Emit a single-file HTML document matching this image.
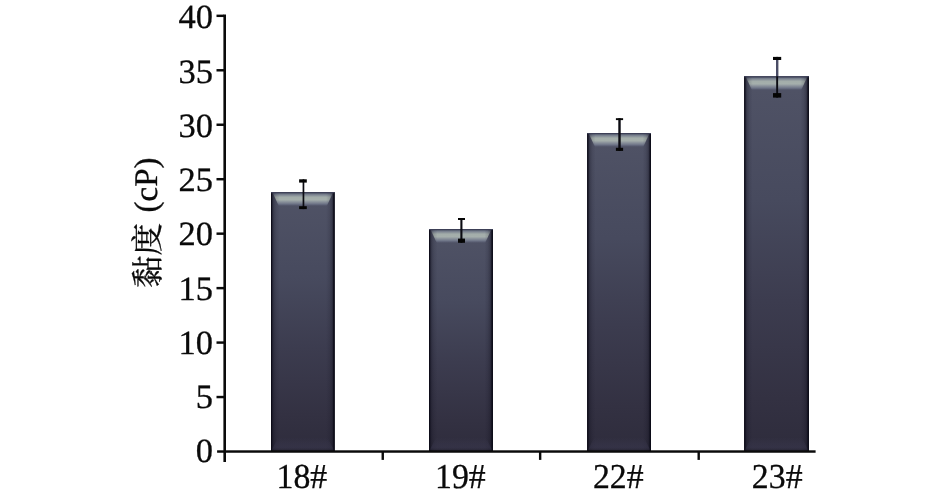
<!DOCTYPE html>
<html lang="zh"><head><meta charset="utf-8"><title>黏度 (cP)</title>
<style>
html,body{margin:0;padding:0;background:#fff;}
body{width:945px;height:497px;overflow:hidden;}
svg{display:block;}
text{text-rendering:geometricPrecision;stroke:#0a0a0a;stroke-width:0.3px;font-family:"Liberation Serif","Noto Serif CJK SC",serif;fill:#0a0a0a;}
</style></head><body>
<svg width="945" height="497" viewBox="0 0 945 497">
<defs>
<linearGradient id="bg" x1="0" y1="0" x2="0" y2="1">
<stop offset="0" stop-color="#505366"/><stop offset="0.33" stop-color="#474a5e"/><stop offset="0.6" stop-color="#3c3c4f"/><stop offset="0.86" stop-color="#333142"/><stop offset="1" stop-color="#2e2c3c"/>
</linearGradient>
<linearGradient id="hl" x1="0" y1="0" x2="0" y2="1">
<stop offset="0" stop-color="#596071"/><stop offset="0.12" stop-color="#7c8491"/><stop offset="0.3" stop-color="#a3adaa"/><stop offset="0.5" stop-color="#a5afac"/><stop offset="0.63" stop-color="#8d959d"/><stop offset="0.82" stop-color="#6b7185"/><stop offset="1" stop-color="#4f5267" stop-opacity="0"/>
</linearGradient>
<linearGradient id="sl" x1="0" y1="0" x2="1" y2="0">
<stop offset="0" stop-color="#0e0d1a" stop-opacity="0.92"/><stop offset="0.16" stop-color="#12111f" stop-opacity="0.62"/><stop offset="0.34" stop-color="#12111f" stop-opacity="0.3"/><stop offset="0.6" stop-color="#12111f" stop-opacity="0.12"/><stop offset="1" stop-color="#15132a" stop-opacity="0"/>
</linearGradient>
<linearGradient id="sr" x1="1" y1="0" x2="0" y2="0">
<stop offset="0" stop-color="#0a0914" stop-opacity="0.95"/><stop offset="0.16" stop-color="#12111f" stop-opacity="0.68"/><stop offset="0.34" stop-color="#12111f" stop-opacity="0.32"/><stop offset="0.6" stop-color="#12111f" stop-opacity="0.13"/><stop offset="1" stop-color="#15132a" stop-opacity="0"/>
</linearGradient>
<linearGradient id="bl" x1="0" y1="0" x2="0" y2="1">
<stop offset="0" stop-color="#3d3b54" stop-opacity="0"/><stop offset="0.5" stop-color="#3d3b54" stop-opacity="0.3"/><stop offset="0.8" stop-color="#3d3b54" stop-opacity="0.4"/><stop offset="1" stop-color="#2a2839" stop-opacity="0.5"/>
</linearGradient>
</defs>
<rect width="945" height="497" fill="#ffffff"/>

<rect x="271.0" y="192.1" width="63.6" height="259.2" fill="url(#bg)"/>
<polygon points="272.8,193.1 332.8,193.1 326.6,206.6 279.0,206.6" fill="url(#hl)"/>
<rect x="271.0" y="192.1" width="8.5" height="259.2" fill="url(#sl)"/>
<rect x="326.1" y="192.1" width="8.5" height="259.2" fill="url(#sr)"/>
<rect x="271.0" y="192.6" width="1.1" height="258.7" fill="#0b0a16" opacity="0.75"/>
<rect x="333.3" y="192.6" width="1.3" height="258.7" fill="#0b0a16" opacity="0.85"/>
<rect x="271.0" y="192.1" width="63.6" height="1.1" fill="#3c3f56"/>
<polygon points="272.0,449.8 333.6,449.8 327.6,437.3 278.0,437.3" fill="url(#bl)"/>
<rect x="302.60" y="179.3" width="1.7" height="29.8" fill="#0b0b12"/>
<rect x="299.1" y="179.3" width="7.7" height="3.3" fill="#050505"/>
<rect x="299.1" y="206.2" width="7.7" height="2.9" fill="#050505"/>
<rect x="429.0" y="229.0" width="63.9" height="222.3" fill="url(#bg)"/>
<polygon points="430.8,230.0 491.1,230.0 484.9,243.5 437.0,243.5" fill="url(#hl)"/>
<rect x="429.0" y="229.0" width="8.5" height="222.3" fill="url(#sl)"/>
<rect x="484.4" y="229.0" width="8.5" height="222.3" fill="url(#sr)"/>
<rect x="429.0" y="229.5" width="1.1" height="221.8" fill="#0b0a16" opacity="0.75"/>
<rect x="491.6" y="229.5" width="1.3" height="221.8" fill="#0b0a16" opacity="0.85"/>
<rect x="429.0" y="229.0" width="63.9" height="1.1" fill="#3c3f56"/>
<polygon points="430.0,449.8 491.9,449.8 485.9,437.3 436.0,437.3" fill="url(#bl)"/>
<rect x="460.35" y="218.0" width="2.1" height="24.8" fill="#0b0b12"/>
<rect x="458.0" y="218.0" width="7.0" height="2.0" fill="#050505"/>
<rect x="458.0" y="238.6" width="7.0" height="4.2" fill="#050505"/>
<rect x="587.2" y="133.0" width="63.8" height="318.3" fill="url(#bg)"/>
<polygon points="589.0,134.0 649.2,134.0 643.0,147.5 595.2,147.5" fill="url(#hl)"/>
<rect x="587.2" y="133.0" width="8.5" height="318.3" fill="url(#sl)"/>
<rect x="642.5" y="133.0" width="8.5" height="318.3" fill="url(#sr)"/>
<rect x="587.2" y="133.5" width="1.1" height="317.8" fill="#0b0a16" opacity="0.75"/>
<rect x="649.7" y="133.5" width="1.3" height="317.8" fill="#0b0a16" opacity="0.85"/>
<rect x="587.2" y="133.0" width="63.8" height="1.1" fill="#3c3f56"/>
<polygon points="588.2,449.8 650.0,449.8 644.0,437.3 594.2,437.3" fill="url(#bl)"/>
<rect x="618.30" y="118.2" width="2.4" height="32.7" fill="#0b0b12"/>
<rect x="615.9" y="118.2" width="7.2" height="1.9" fill="#050505"/>
<rect x="615.9" y="147.8" width="7.2" height="3.1" fill="#050505"/>
<rect x="744.2" y="76.2" width="64.7" height="375.1" fill="url(#bg)"/>
<polygon points="746.0,77.2 807.1,77.2 800.9,90.7 752.2,90.7" fill="url(#hl)"/>
<rect x="744.2" y="76.2" width="8.5" height="375.1" fill="url(#sl)"/>
<rect x="800.4" y="76.2" width="8.5" height="375.1" fill="url(#sr)"/>
<rect x="744.2" y="76.7" width="1.1" height="374.6" fill="#0b0a16" opacity="0.75"/>
<rect x="807.6" y="76.7" width="1.3" height="374.6" fill="#0b0a16" opacity="0.85"/>
<rect x="744.2" y="76.2" width="64.7" height="1.1" fill="#3c3f56"/>
<polygon points="745.2,449.8 807.9,449.8 801.9,437.3 751.2,437.3" fill="url(#bl)"/>
<rect x="776.20" y="56.9" width="1.9" height="40.7" fill="#0b0b12"/>
<rect x="776.00" y="60.0" width="2.3" height="16.2" fill="#4a4d66"/>
<rect x="773.0" y="56.9" width="8.2" height="3.1" fill="#050505"/>
<rect x="773.0" y="93.1" width="8.2" height="4.5" fill="#050505"/>
<rect x="223.4" y="14.5" width="2.6" height="447.5" fill="#0a0a0a"/>
<rect x="217.1" y="450.3" width="598.5" height="2.45" fill="#0a0a0a"/>
<rect x="216.5" y="14.60" width="7.5" height="2.45" fill="#0a0a0a"/>
<rect x="216.5" y="69.06" width="7.5" height="2.45" fill="#0a0a0a"/>
<rect x="216.5" y="123.52" width="7.5" height="2.45" fill="#0a0a0a"/>
<rect x="216.5" y="177.98" width="7.5" height="2.45" fill="#0a0a0a"/>
<rect x="216.5" y="232.44" width="7.5" height="2.45" fill="#0a0a0a"/>
<rect x="216.5" y="286.90" width="7.5" height="2.45" fill="#0a0a0a"/>
<rect x="216.5" y="341.36" width="7.5" height="2.45" fill="#0a0a0a"/>
<rect x="216.5" y="395.82" width="7.5" height="2.45" fill="#0a0a0a"/>
<rect x="381.55" y="451" width="2.4" height="8.9" fill="#0a0a0a"/>
<rect x="538.95" y="451" width="2.4" height="8.9" fill="#0a0a0a"/>
<rect x="697.50" y="451" width="2.4" height="8.9" fill="#0a0a0a"/>
<text transform="translate(213.0,28.4) scale(1,0.985)" font-size="34.5" text-anchor="end">40</text>
<text transform="translate(213.0,82.6) scale(1,0.985)" font-size="34.5" text-anchor="end">35</text>
<text transform="translate(213.0,136.9) scale(1,0.985)" font-size="34.5" text-anchor="end">30</text>
<text transform="translate(213.0,191.1) scale(1,0.985)" font-size="34.5" text-anchor="end">25</text>
<text transform="translate(213.0,245.4) scale(1,0.985)" font-size="34.5" text-anchor="end">20</text>
<text transform="translate(213.0,299.6) scale(1,0.985)" font-size="34.5" text-anchor="end">15</text>
<text transform="translate(213.0,353.8) scale(1,0.985)" font-size="34.5" text-anchor="end">10</text>
<text transform="translate(213.0,408.1) scale(1,0.985)" font-size="34.5" text-anchor="end">5</text>
<text transform="translate(213.0,462.3) scale(1,0.985)" font-size="34.5" text-anchor="end">0</text>
<text transform="translate(301.9,487.5) scale(1,1.035)" font-size="33.8" text-anchor="middle">18#</text>
<text transform="translate(460.4,487.5) scale(1,1.035)" font-size="33.8" text-anchor="middle">19#</text>
<text transform="translate(618.3,487.5) scale(1,1.035)" font-size="33.8" text-anchor="middle">22#</text>
<text transform="translate(777.2,487.5) scale(1,1.035)" font-size="33.8" text-anchor="middle">23#</text>
<text transform="translate(158.5,288) rotate(-90)" font-size="32.6" text-anchor="start">黏度</text>
<text transform="translate(157.4,212.4) rotate(-90)" font-size="33" text-anchor="start">(cP)</text>
</svg></body></html>
